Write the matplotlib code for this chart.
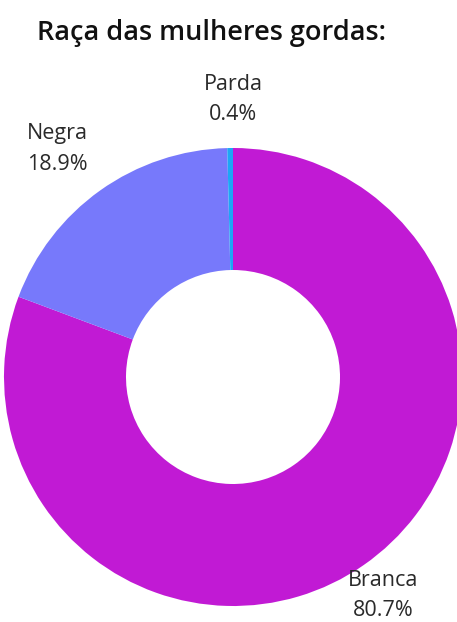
import matplotlib.pyplot as plt

# data
categories = ['Branca', 'Negra', 'Parda']
values = [80.7, 18.9, 0.4]
colors = ['#C11AD4', '#7779FB', '#1DA6F6']

W, H = 457, 622
plt.rcParams['font.family'] = ['Open Sans', 'DejaVu Sans']

fig = plt.figure(figsize=(W / 100, H / 100), dpi=100)
ax = fig.add_axes([0, 0, 1, 1])

# donut, pixel coordinates (y up)
cx, cy, r_out, r_in = 233, H - 377, 229, 107
ax.pie(values, colors=colors, startangle=90, counterclock=False,
       center=(cx, cy), radius=r_out,
       wedgeprops=dict(width=r_out - r_in, linewidth=0))

ax.set_xlim(0, W)
ax.set_ylim(0, H)
ax.set_aspect('equal')
ax.axis('off')

fig.text(37 / W, 1 - 33 / H, 'Raça das mulheres gordas:', fontsize=19.5,
         fontweight='semibold', ha='left', va='center', color='#111111')

# label positions (pixels from top-left)
label_pos = {'Branca': (383, 580), 'Negra': (57, 134), 'Parda': (233, 84)}
for name, val in zip(categories, values):
    x, y = label_pos[name]
    ax.text(x, H - y, name, fontsize=15.5, ha='center', va='center', color='#2a2a2a')
    ax.text(x, H - y - 30, f'{val}%', fontsize=15.5, ha='center', va='center', color='#2a2a2a')

fig.savefig('out.png', dpi=100, facecolor='white')
